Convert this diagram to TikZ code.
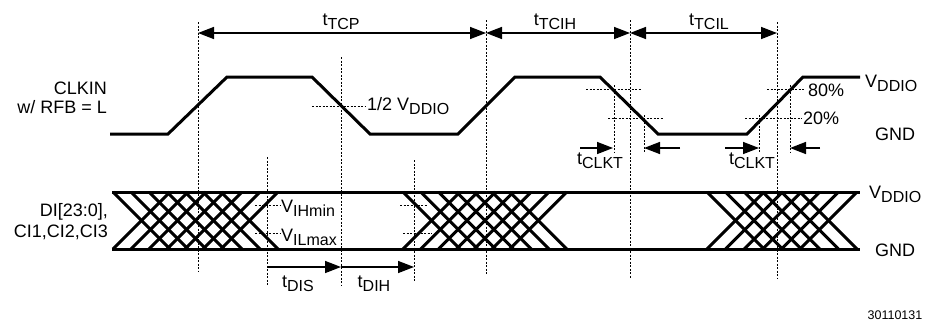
\documentclass[tikz,border=0pt]{standalone}
\usepackage{fontspec}
\setmainfont{Liberation Sans}
\usetikzlibrary{arrows.meta}
\newcommand{\lowsub}[1]{\raisebox{-4pt}{\fontsize{16}{16}\selectfont #1}}
\begin{document}
\begin{tikzpicture}[x=1pt,y=-1pt]
        \tikzset{wave/.style={line width=3pt,line join=miter},
            bus/.style={line width=3pt},
            hatch/.style={line width=3pt},
            guide/.style={line width=1pt,dash pattern=on 2pt off 1.5pt},
            dim/.style={line width=1.5pt,-{Triangle[length=16pt,width=12pt]}},
            dimboth/.style={dim,{Triangle[length=16pt,width=12pt]}-{Triangle[length=16pt,width=12pt]}},
            lbl/.style={inner sep=0pt,font=\fontsize{18}{21}\selectfont}}
        \useasboundingbox (0,0) rectangle (931,324);
        % guide lines
        \foreach \x/\a/\b in {198/22/272, 341/57/285, 486/20/275, 630/20/278, 777/22/278,
            267/157/285, 414/160/282, 614/85/153, 644/115/153, 759/115/153, 790/85/153}
            \draw[guide] (\x,\a) -- (\x,\b);
        \foreach \y/\a/\b in {106/312/365, 89/586/642, 118/608/664, 89/767/805, 118/745/802,
            205/255/280, 233/255/280, 205/400/427, 233/403/432}
            \draw[guide] (\a,\y) -- (\b,\y);
        % clock
        \draw[wave] (110,134) -- (168,134) -- (227,77) -- (312,77) -- (370,134) -- (458,134)
            -- (515,77) -- (600,77) -- (658,134) -- (747,134) -- (803,77) -- (860,77);
        % data bus
        \draw[bus] (112,192) -- (860,192);
        \draw[bus] (112,249) -- (860,249);
        \foreach \s/\n/\d in {113/6/18, 403/6/17.8, 707/5/18.6}
            \foreach \i in {0,...,\n} {
                \draw[hatch] (\s+\i*\d,192) -- ++(57,57);
                \draw[hatch] (\s+\i*\d,249) -- ++(57,-57);
            }
        % timing marks
        \coordinate (tcpL) at (198,33);
        \coordinate (tcpR) at (486,33);
        \coordinate (tcihR) at (630,33);
        \coordinate (tcilR) at (777,33);
        \coordinate (ktA) at (580,148);
        \coordinate (ktB) at (613,148);
        \coordinate (ktC) at (680,148);
        \coordinate (ktD) at (644,148);
        \coordinate (ktE) at (725,148);
        \coordinate (ktF) at (759,148);
        \coordinate (ktG) at (820,148);
        \coordinate (ktH) at (790,148);
        \coordinate (disL) at (267,267);
        \coordinate (disR) at (341,267);
        \coordinate (dihR) at (414,267);
        \draw[dimboth] (tcpL) -- (tcpR);
        \draw[dimboth] (tcpR) -- (tcihR);
        \draw[dimboth] (tcihR) -- (tcilR);
        \draw[dim] (ktA) -- (ktB);
        \draw[dim] (ktC) -- (ktD);
        \draw[dim] (ktE) -- (ktF);
        \draw[dim] (ktG) -- (ktH);
        \draw[dim] (disL) -- (disR);
        \draw[dim] (disR) -- (dihR);
        % labels
        \node[lbl,anchor=base] (ltcp) at (341,25) {t\lowsub{TCP}};
        \node[lbl,anchor=base] (ltcih) at (555,25) {t\lowsub{TCIH}};
        \node[lbl,anchor=base] (ltcil) at (709,25) {t\lowsub{TCIL}};
        \node[lbl,anchor=base] (lkt1) at (600,164) {t\lowsub{CLKT}};
        \node[lbl,anchor=base] (lkt2) at (752,164) {t\lowsub{CLKT}};
        \node[lbl,anchor=base] (ldis) at (298,287) {t\lowsub{DIS}};
        \node[lbl,anchor=base] (ldih) at (374,287) {t\lowsub{DIH}};
        \node[lbl,anchor=base east] (lclk) at (107,94) {CLKIN};
        \node[lbl,anchor=base east] (lrfb) at (107,113) {w/ RFB = L};
        \node[lbl,anchor=base east] (ldi) at (108,216) {DI[23:0],};
        \node[lbl,anchor=base east] (lci) at (108,237) {CI1,CI2,CI3};
        \node[lbl,anchor=base west] (lhalf) at (367,110) {1/2 V\lowsub{DDIO}};
        \node[lbl,anchor=base west] (l80) at (808,96) {80\%};
        \node[lbl,anchor=base west] (l20) at (803,124) {20\%};
        \node[lbl,anchor=base west] (lih) at (281,212) {V\lowsub{IHmin}};
        \node[lbl,anchor=base west] (lil) at (281,241) {V\lowsub{ILmax}};
        \node[lbl,anchor=base west] (lvt) at (865,87) {V\lowsub{DDIO}};
        \node[lbl,anchor=base west] (lgt) at (875,140) {GND};
        \node[lbl,anchor=base west] (lvb) at (869,198) {V\lowsub{DDIO}};
        \node[lbl,anchor=base west] (lgb) at (875,256) {GND};
        \node[inner sep=0pt,font=\fontsize{12.5}{13}\selectfont] (fig) at (895,315) {30110131};
    \end{tikzpicture}
\end{document}
